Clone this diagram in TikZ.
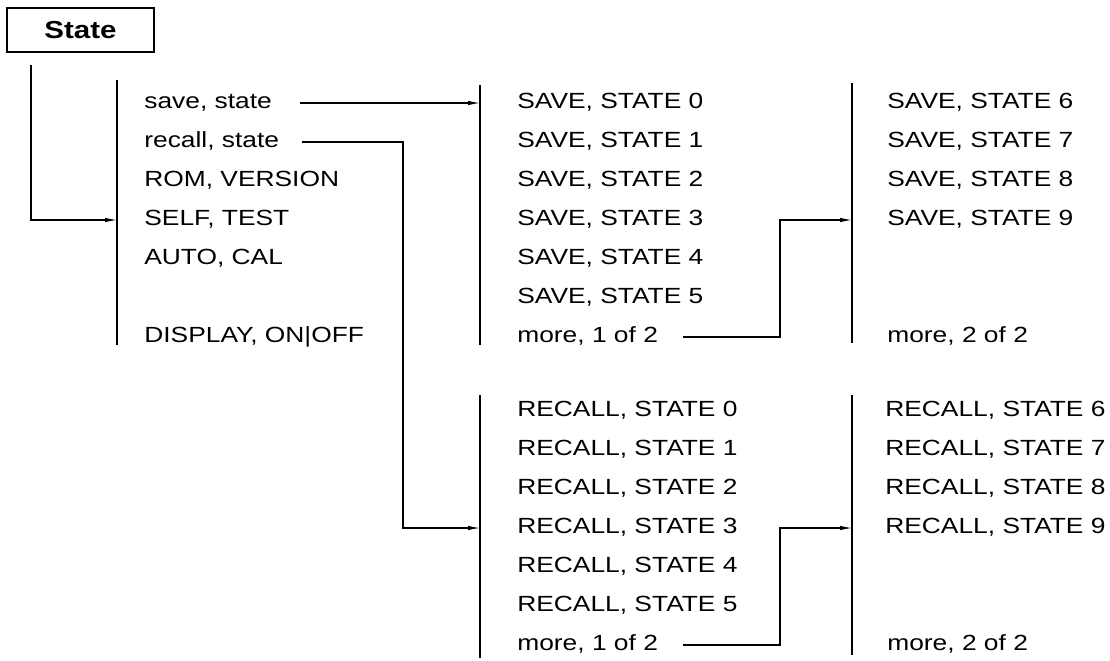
\documentclass[tikz,border=0pt]{standalone}
\usepackage{fontspec}
\setmainfont[FakeStretch=1.2]{Liberation Sans}
\usetikzlibrary{arrows.meta}
\tikzset{
  item/.style={anchor=west,inner sep=0pt,text height=1.5ex,text depth=0.25ex,font=\fontsize{12.5}{15}\selectfont},
  statebox/.style={draw,line width=1.3pt,minimum width=2.94cm,minimum height=0.88cm,inner sep=0pt,font=\fontsize{14}{16}\selectfont\bfseries},
  bar/.style={line width=0.6pt},
  arr/.style={line width=0.6pt,-{Latex[length=0.24cm,width=0.09cm]}},
}
\begin{document}
\begin{tikzpicture}[x=0.02cm,y=-0.02cm]
  \useasboundingbox (0,0) rectangle (1110,660);
  \node[statebox] (state) at (80.5,30) {State};
  % menu bars
  \coordinate (bar0t) at (117,80);  \coordinate (bar0b) at (117,345);
  \coordinate (bar1t) at (480,85);  \coordinate (bar1b) at (480,345);
  \coordinate (bar2t) at (852,83);  \coordinate (bar2b) at (852,343);
  \coordinate (bar3t) at (480,395); \coordinate (bar3b) at (480,658);
  \coordinate (bar4t) at (852,395); \coordinate (bar4b) at (852,655);
  \foreach \a/\b in {bar0t/bar0b, bar1t/bar1b, bar2t/bar2b, bar3t/bar3b, bar4t/bar4b}
    \draw[bar] (\a) -- (\b);
  % state menu
  \foreach \k/\t in {0/{save, state}, 1/{recall, state}, 2/{ROM, VERSION}, 3/{SELF, TEST}, 4/{AUTO, CAL}, 6/{DISPLAY, ON\textbar OFF}}
    \node[item] (ls\k) at (144,103+39*\k) {\t};
  % save and recall pages
  \foreach \k in {0,...,5} {
    \node[item] (sv\k) at (517,103+39*\k) {SAVE, STATE \k};
    \node[item] (rc\k) at (517,411+39*\k) {RECALL, STATE \k};
  }
  \node[item] (sv6) at (517,337) {more, 1 of 2};
  \node[item] (rc6) at (517,645) {more, 1 of 2};
  \foreach \k in {6,...,9} {
    \node[item] (sx\k) at (887,103+39*\k-234) {SAVE, STATE \k};
    \node[item] (rx\k) at (885,411+39*\k-234) {RECALL, STATE \k};
  }
  \node[item] (sx10) at (887,337) {more, 2 of 2};
  \node[item] (rx10) at (887,645) {more, 2 of 2};
  % connectors
  \coordinate (st0) at (31,65);
  \coordinate (jog1) at (403,0);
  \coordinate (jog2) at (780,0);
  \draw[arr] (st0) |- (ls3 -| bar0t);
  \draw[arr] ([xshift=0.55cm]ls0.east) -- (ls0 -| bar1t);
  \draw[arr] ([xshift=0.45cm]ls1.east) -| (jog1 |- rc3) -- (rc3 -| bar3t);
  \draw[arr] ([xshift=0.5cm]sv6.east) -| (jog2 |- sx9) -- (sx9 -| bar2t);
  \draw[arr] ([xshift=0.5cm]rc6.east) -| (jog2 |- rx9) -- (rx9 -| bar4t);
\end{tikzpicture}
\end{document}
